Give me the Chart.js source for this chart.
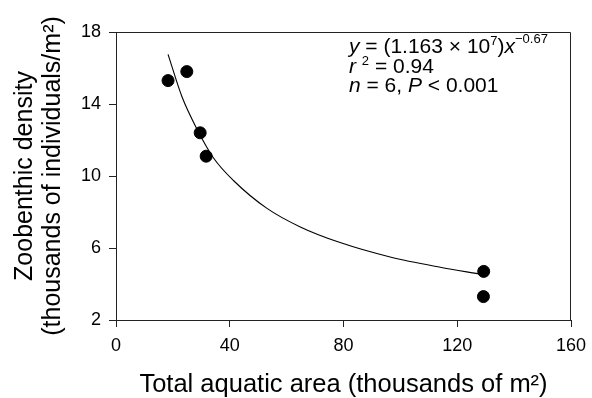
<!DOCTYPE html>
<html>
<head>
<meta charset="utf-8">
<script src="https://cdn.jsdelivr.net/npm/chart.js@4.4.1/dist/chart.umd.min.js"></script>
<style>
  html, body { margin: 0; padding: 0; background: #fff; }
  #wrap { width: 592px; height: 398px; }
</style>
</head>
<body>
<div id="wrap"><canvas id="scatter"></canvas></div>
<script>
// observed sites: total aquatic area (thousands of m2) vs zoobenthic density
const areaX = [18.3, 24.9, 29.6, 31.7, 129.3, 129.2];
const densityY = [15.3, 15.8, 12.4, 11.1, 4.7, 3.3];

// fitted power curve
const fitX = [18.3, 23.2, 28.5, 34.3, 41.3, 53.1, 64.8, 78.8, 96.4, 114, 128];
const fitY = [16.76, 14.4, 12.6, 11.0, 9.75, 8.2, 7.17, 6.3, 5.5, 4.93, 4.55];

const xTicks = [0, 40, 80, 120, 160];
const yTicks = [2, 6, 10, 14, 18];

const FONT = '"Liberation Sans", Arial, Helvetica, sans-serif';

// plot frame on top and right + equation text
const framePlugin = {
    id: 'frame',
    afterDraw(chart) {
        const c = chart.ctx;
        const a = chart.chartArea;
        c.save();
        c.strokeStyle = '#222';
        c.lineWidth = 1;
        c.beginPath();
        c.moveTo(a.left, a.top + 0.5);
        c.lineTo(a.right - 0.5, a.top + 0.5);
        c.lineTo(a.right - 0.5, a.bottom);
        c.stroke();

        c.fillStyle = '#000';
        c.textBaseline = 'alphabetic';
        const big = '21px ' + FONT;
        const bigIt = 'italic 21px ' + FONT;
        const small = '13px ' + FONT;
        function run(parts, x, y) {
            parts.forEach(p => {
                c.font = p[1];
                c.fillText(p[0], x, y + (p[2] || 0));
                x += c.measureText(p[0]).width;
            });
        }
        const x0 = 349;
        run([['y', bigIt], [' = (1.163 \u00d7 10', big], ['7', small, -8], [')', big], ['x', bigIt], ['\u22120.67', small, -10]], x0, 53);
        run([['r', bigIt], [' ', big], ['2', small, -8], [' = 0.94', big]], x0, 72.5);
        run([['n', bigIt], [' = 6, ', big], ['P', bigIt], [' < 0.001', big]], x0, 92);
        c.restore();
    }
};

const ctx = document.getElementById('scatter');
const myChart = new Chart(ctx, {
    type: 'scatter',
    data: {
        datasets: [{
            label: 'sites',
            data: areaX.map((x, i) => ({x: x, y: densityY[i]})),
            backgroundColor: '#000',
            borderColor: '#000',
            pointRadius: 6,
            borderWidth: 1
        }, {
            label: 'fit',
            data: fitX.map((x, i) => ({x: x, y: fitY[i]})),
            showLine: true,
            pointRadius: 0,
            borderColor: '#000',
            borderWidth: 1.1,
            cubicInterpolationMode: 'monotone',
            fill: false
        }]
    },
    options: {
        responsive: true,
        maintainAspectRatio: false,
        animation: false,
        events: [],
        layout: { padding: { top: 32, right: 21, left: 0, bottom: 0 } },
        plugins: { legend: { display: false }, tooltip: { enabled: false } },
        scales: {
            x: {
                type: 'linear',
                min: 0, max: 160,
                afterBuildTicks: s => { s.ticks = xTicks.map(v => ({value: v})); },
                afterFit: s => { s.height = 78; s.paddingRight = 0; s.paddingLeft = 0; },
                grid: { drawOnChartArea: false, drawTicks: true, tickLength: 7, tickColor: '#222' },
                border: { display: true, color: '#222', width: 1 },
                ticks: { color: '#000', font: { family: FONT, size: 18 }, padding: 8, maxRotation: 0 },
                title: { display: true, text: 'Total aquatic area (thousands of m\u00b2)', color: '#000',
                         font: { family: FONT, size: 25.5, lineHeight: 1.05 }, padding: { top: 0, bottom: 0 } }
            },
            y: {
                type: 'linear',
                min: 2, max: 18,
                afterBuildTicks: s => { s.ticks = yTicks.map(v => ({value: v})); },
                afterFit: s => { s.width = 116; },
                grid: { drawOnChartArea: false, drawTicks: true, tickLength: 7, tickColor: '#222' },
                border: { display: true, color: '#222', width: 1 },
                ticks: { color: '#000', font: { family: FONT, size: 18 }, padding: 8 },
                title: { display: true, text: ['Zoobenthic density', '(thousands of individuals/m\u00b2)'], color: '#000',
                         font: { family: FONT, size: 25, lineHeight: 1.12 }, padding: { top: 11, bottom: 0 } }
            }
        }
    },
    plugins: [framePlugin]
});
</script>
</body>
</html>
